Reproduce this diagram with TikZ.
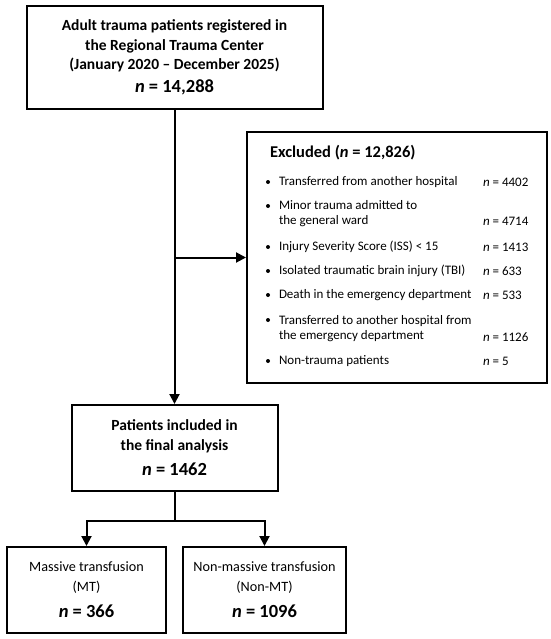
\documentclass[tikz,border=0pt]{standalone}
\usepackage{fontspec}
\setmainfont{Carlito}
\usetikzlibrary{arrows.meta}

\begin{document}
\begin{tikzpicture}[x=1pt,y=-1pt,line width=2pt,
    box/.style={draw,rectangle,inner sep=0pt,align=center},
    arr/.style={-{Triangle[length=10pt,width=10pt]}},
    item/.style={anchor=west,align=left,inner sep=0pt,font=\fontsize{13}{15.5}\selectfont},
    dot/.style={circle,fill,inner sep=0pt,minimum size=4pt}]
  \useasboundingbox (0,0) rectangle (550,639);
  % boxes of the flow
  \node[box,minimum width=296pt,minimum height=103pt,font=\fontsize{15.5}{19.5}\selectfont\bfseries] (top) at (174.5,57.5)
    {Adult trauma patients registered in\\the Regional Trauma Center\\(January 2020 -- December 2025)\\[3pt]{\fontsize{18.5}{22}\selectfont\textit{n} = 14,288}};
  \node[box,minimum width=300pt,minimum height=251pt] (excl) at (397,257.5) {};
  \node[box,minimum width=206pt,minimum height=86pt,font=\fontsize{15.5}{20}\selectfont\bfseries] (incl) at (174.5,448)
    {Patients included in\\the final analysis\\[5pt]{\fontsize{18.5}{22}\selectfont\textit{n} = 1462}};
  \node[box,minimum width=159pt,minimum height=86pt,font=\fontsize{14.2}{20}\selectfont] (mt) at (86.5,590)
    {Massive transfusion\\(MT)\\[6pt]{\fontsize{18.5}{22}\selectfont\bfseries\textit{n} = 366}};
  \node[box,minimum width=163pt,minimum height=86pt,font=\fontsize{14.2}{20}\selectfont] (nonmt) at (264.5,590)
    {Non-massive transfusion\\(Non-MT)\\[6pt]{\fontsize{18.5}{22}\selectfont\bfseries\textit{n} = 1096}};
  % excluded list
  \node[anchor=west,inner sep=0pt,font=\fontsize{16.5}{18}\selectfont\bfseries] (exhead) at (269,153) {Excluded (\textit{n} = 12,826)};
  \foreach \ya/\yb/\txt/\num [count=\i] in {
      182/182/{Transferred from another hospital}/4402,
      206/221/{Minor trauma admitted to\\the general ward}/4714,
      247/247/{Injury Severity Score (ISS) < 15}/1413,
      271/271/{Isolated traumatic brain injury (TBI)}/633,
      295/295/{Death in the emergency department}/533,
      320/337/{Transferred to another hospital from\\the emergency department}/1126,
      361/361/{Non-trauma patients}/5}
  {
    \node[dot] (b\i) at (268,\ya) {};
    \node[item] (t\i) at (278,{(\ya+\yb)/2}) {\txt};
    \node[item] (n\i) at (482,\yb) {\textit{n} = \num};
  }
  % connectors
  \draw[arr] (top.south) -- (incl.north);
  \draw[arr] (top.south |- excl.west) -- (excl.west);
  \draw (incl.south) -- ++(0,29) coordinate (split);
  \foreach \tgt in {mt,nonmt}
    \draw[arr] (split) -| (\tgt.north);
\end{tikzpicture}
\end{document}
